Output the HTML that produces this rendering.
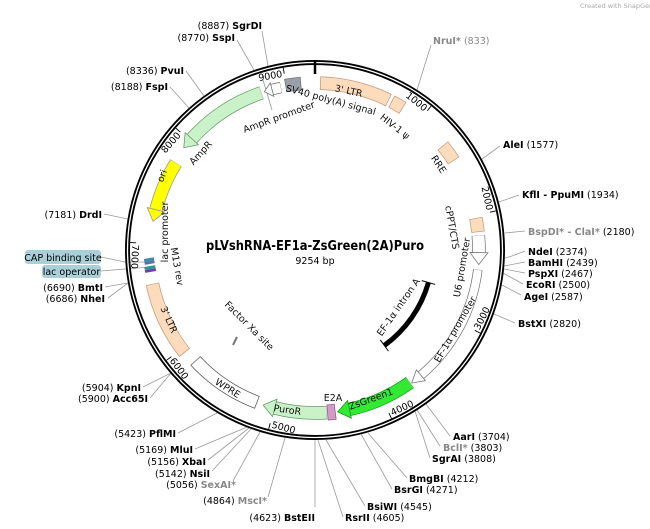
<!DOCTYPE html>
<html><head><meta charset="utf-8"><style>
html,body{margin:0;padding:0;background:#fff;}
svg{display:block;font-family:"DejaVu Sans","Liberation Sans",sans-serif;}
.e{font-size:9.5px;fill:#000;}
.b{font-weight:bold;}
.g{fill:#888;}
.ln{stroke:#9a9a9a;stroke-width:0.8;fill:none;}
.f{font-size:9.5px;fill:#111;}
</style></head><body>
<svg width="650" height="529" viewBox="0 0 650 529" xmlns="http://www.w3.org/2000/svg">
<rect width="650" height="529" fill="#fff"/>
<text x="580" y="8" font-size="6.5" fill="#aaa">Created with SnapGene®</text>

<!-- connector lines -->
<g class="ln">
<line x1="417" y1="90" x2="431" y2="45"/>
<line x1="482" y1="159" x2="500" y2="146"/>
<line x1="499" y1="202" x2="519" y2="195"/>
<line x1="505" y1="233" x2="525" y2="231"/>
<polyline points="505,258 512,256 525,251"/>
<polyline points="504,266 525,262"/>
<polyline points="504,269 525,273"/>
<polyline points="503,273 523,284"/>
<polyline points="502,285 521,295"/>
<line x1="494" y1="314" x2="515" y2="323"/>
<line x1="426" y1="404" x2="450" y2="436"/>
<line x1="417" y1="410" x2="440" y2="446"/>
<line x1="415" y1="411" x2="430" y2="458"/>
<line x1="368" y1="433" x2="407" y2="478"/>
<line x1="361" y1="434" x2="392" y2="489"/>
<line x1="326" y1="440" x2="365" y2="506"/>
<line x1="318" y1="440" x2="343" y2="517"/>
<line x1="315" y1="440" x2="315" y2="507"/>
<line x1="285" y1="438" x2="268" y2="497"/>
<line x1="260" y1="432" x2="233" y2="481"/>
<line x1="251" y1="429" x2="212" y2="471"/>
<line x1="249" y1="428" x2="208" y2="460"/>
<line x1="247" y1="427" x2="195" y2="449"/>
<line x1="217" y1="413" x2="178" y2="433"/>
<line x1="171" y1="373" x2="143" y2="387"/>
<line x1="171" y1="373" x2="150" y2="398"/>
<line x1="128" y1="283" x2="105" y2="287"/>
<line x1="128" y1="283" x2="108" y2="298"/>
<polyline points="101,271 150,267"/>
<polyline points="101,257 125,262 148,262"/>
<line x1="128" y1="219" x2="104" y2="214"/>
<line x1="189" y1="108" x2="170" y2="87"/>
<line x1="204" y1="96" x2="186" y2="71"/>
<line x1="254" y1="70" x2="237" y2="40"/>
<line x1="268" y1="66" x2="262" y2="31"/>
<line x1="263" y1="80" x2="272" y2="110"/>
</g>

<!-- backbone -->
<circle cx="315" cy="250" r="187.5" fill="none" stroke="#000" stroke-width="5"/>
<circle cx="315" cy="250" r="187.5" fill="none" stroke="#fff" stroke-width="1.3"/>
<line x1="315" y1="61" x2="315" y2="74" stroke="#000" stroke-width="2.5"/>

<!-- ticks -->
<g stroke="#000" stroke-width="0.9">
<line x1="315" y1="65" x2="315" y2="71" transform="rotate(38.9 315 250)"/>
<line x1="315" y1="65" x2="315" y2="71" transform="rotate(77.8 315 250)"/>
<line x1="315" y1="65" x2="315" y2="71" transform="rotate(116.7 315 250)"/>
<line x1="315" y1="65" x2="315" y2="71" transform="rotate(155.6 315 250)"/>
<line x1="315" y1="65" x2="315" y2="71" transform="rotate(194.5 315 250)"/>
<line x1="315" y1="65" x2="315" y2="71" transform="rotate(233.4 315 250)"/>
<line x1="315" y1="65" x2="315" y2="71" transform="rotate(272.3 315 250)"/>
<line x1="315" y1="65" x2="315" y2="71" transform="rotate(311.2 315 250)"/>
<line x1="315" y1="65" x2="315" y2="71" transform="rotate(350.1 315 250)"/>
</g>
<g font-size="9.5" fill="#000">
<text x="313" y="74" text-anchor="end" transform="rotate(38.9 315 250)">1000</text>
<text x="313" y="74" text-anchor="end" transform="rotate(77.8 315 250)">2000</text>
<text x="313" y="74" text-anchor="end" transform="rotate(311.2 315 250)">8000</text>
<text x="313" y="74" text-anchor="end" transform="rotate(350.1 315 250)">9000</text>
<text x="317" y="433" transform="rotate(-63.3 315 250)">3000</text>
<text x="317" y="433" transform="rotate(-24.4 315 250)">4000</text>
<text x="317" y="433" transform="rotate(14.5 315 250)">5000</text>
<text x="317" y="433" transform="rotate(53.4 315 250)">6000</text>
<text x="317" y="433" transform="rotate(92.3 315 250)">7000</text>
</g>

<!-- box features -->
<g fill="none">
<!-- 3' LTR top -->
<circle cx="315" cy="250" r="167" pathLength="360" stroke="#c49a78" stroke-width="13.5" stroke-dasharray="24.5 400" transform="rotate(-88.25 315 250)"/>
<circle cx="315" cy="250" r="167" pathLength="360" stroke="#fddcbd" stroke-width="12" stroke-dasharray="24 400" transform="rotate(-88 315 250)"/>
<!-- HIV psi -->
<circle cx="315" cy="250" r="167" pathLength="360" stroke="#c49a78" stroke-width="13.5" stroke-dasharray="4.5 400" transform="rotate(-62.75 315 250)"/>
<circle cx="315" cy="250" r="167" pathLength="360" stroke="#fddcbd" stroke-width="12" stroke-dasharray="4 400" transform="rotate(-62.5 315 250)"/>
<!-- RRE -->
<circle cx="315" cy="250" r="165" pathLength="360" stroke="#c49a78" stroke-width="13.5" stroke-dasharray="6.5 400" transform="rotate(-39.25 315 250)"/>
<circle cx="315" cy="250" r="165" pathLength="360" stroke="#fddcbd" stroke-width="12" stroke-dasharray="6 400" transform="rotate(-39 315 250)"/>
<!-- cPPT -->
<circle cx="315" cy="250" r="164" pathLength="360" stroke="#c49a78" stroke-width="13.5" stroke-dasharray="5 400" transform="rotate(-11.25 315 250)"/>
<circle cx="315" cy="250" r="164" pathLength="360" stroke="#fddcbd" stroke-width="12" stroke-dasharray="4.5 400" transform="rotate(-11 315 250)"/>
<!-- SV40 -->
<circle cx="315" cy="250" r="167" pathLength="360" stroke="#6d727c" stroke-width="13.5" stroke-dasharray="5.5 400" transform="rotate(259.75 315 250)"/>
<circle cx="315" cy="250" r="167" pathLength="360" stroke="#9a9fa9" stroke-width="12" stroke-dasharray="5 400" transform="rotate(260 315 250)"/>
<!-- WPRE -->
<circle cx="315" cy="250" r="163" pathLength="360" stroke="#555" stroke-width="13.5" stroke-dasharray="26.5 400" transform="rotate(110.75 315 250)"/>
<circle cx="315" cy="250" r="163" pathLength="360" stroke="#fff" stroke-width="12" stroke-dasharray="26 400" transform="rotate(111 315 250)"/>
<!-- 3' LTR left -->
<circle cx="315" cy="250" r="166" pathLength="360" stroke="#c49a78" stroke-width="13.5" stroke-dasharray="26.5 400" transform="rotate(141.75 315 250)"/>
<circle cx="315" cy="250" r="166" pathLength="360" stroke="#fddcbd" stroke-width="12" stroke-dasharray="26 400" transform="rotate(142 315 250)"/>

<!-- arrows bodies -->
<!-- AmpR -->
<circle cx="315" cy="250" r="166" pathLength="360" stroke="#6a9a6a" stroke-width="13.5" stroke-dasharray="29.2 400" transform="rotate(222 315 250)"/>
<circle cx="315" cy="250" r="166" pathLength="360" stroke="#c9f2c9" stroke-width="12" stroke-dasharray="29 400" transform="rotate(222.1 315 250)"/>
<!-- ori -->
<circle cx="315" cy="250" r="164" pathLength="360" stroke="#999" stroke-width="13.5" stroke-dasharray="18 400" transform="rotate(194.1 315 250)"/>
<circle cx="315" cy="250" r="164" pathLength="360" stroke="#ffff00" stroke-width="12" stroke-dasharray="17.8 400" transform="rotate(194.2 315 250)"/>
<!-- AmpR promoter -->
<circle cx="315" cy="250" r="166" pathLength="360" stroke="#777" stroke-width="11.5" stroke-dasharray="3.2 400" transform="rotate(255 315 250)"/>
<circle cx="315" cy="250" r="166" pathLength="360" stroke="#fff" stroke-width="10" stroke-dasharray="3 400" transform="rotate(255.1 315 250)"/>
<!-- U6 -->
<circle cx="315" cy="250" r="164" pathLength="360" stroke="#777" stroke-width="13.5" stroke-dasharray="6.1 400" transform="rotate(-5.1 315 250)"/>
<circle cx="315" cy="250" r="164" pathLength="360" stroke="#fff" stroke-width="12" stroke-dasharray="6 400" transform="rotate(-5 315 250)"/>
<!-- EF-1a promoter -->
<circle cx="315" cy="250" r="164" pathLength="360" stroke="#777" stroke-width="9.5" stroke-dasharray="43.1 400" transform="rotate(6.9 315 250)"/>
<circle cx="315" cy="250" r="164" pathLength="360" stroke="#fff" stroke-width="8" stroke-dasharray="43 400" transform="rotate(7 315 250)"/>
<!-- ZsGreen1 -->
<circle cx="315" cy="250" r="163" pathLength="360" stroke="#1a9a1a" stroke-width="13.5" stroke-dasharray="23.4 400" transform="rotate(54.4 315 250)"/>
<circle cx="315" cy="250" r="163" pathLength="360" stroke="#33ea33" stroke-width="12" stroke-dasharray="23.3 400" transform="rotate(54.5 315 250)"/>
<!-- PuroR -->
<circle cx="315" cy="250" r="163" pathLength="360" stroke="#6a9a6a" stroke-width="13.5" stroke-dasharray="18.4 400" transform="rotate(85.9 315 250)"/>
<circle cx="315" cy="250" r="163" pathLength="360" stroke="#c9f2c9" stroke-width="12" stroke-dasharray="18.3 400" transform="rotate(86 315 250)"/>
<!-- E2A -->
<circle cx="315" cy="250" r="163" pathLength="360" stroke="#8a5a80" stroke-width="16" stroke-dasharray="3 400" transform="rotate(82.75 315 250)"/>
<circle cx="315" cy="250" r="163" pathLength="360" stroke="#d49ac8" stroke-width="14.5" stroke-dasharray="2.5 400" transform="rotate(83 315 250)"/>
<!-- intron A -->
<circle cx="315" cy="250" r="118" pathLength="360" stroke="#000" stroke-width="5" stroke-dasharray="38 400" transform="rotate(16 315 250)"/>
</g>
<g stroke="#000" stroke-width="1">
<line x1="315" y1="125" x2="315" y2="139" transform="rotate(106 315 250)"/>
<line x1="315" y1="125" x2="315" y2="139" transform="rotate(144 315 250)"/>
</g>
<!-- arrowheads -->
<polygon points="315,75 303,84 315,93" fill="#c9f2c9" stroke="#6a9a6a" stroke-width="0.8" transform="rotate(312.1 315 250)"/>
<polygon points="315,77 303,86 315,95" fill="#ffff00" stroke="#999" stroke-width="0.8" transform="rotate(284.2 315 250)"/>
<polygon points="315,77 307,84 315,91" fill="#fff" stroke="#777" stroke-width="0.8" transform="rotate(345 315 250)"/>
<polygon points="315,77 327,86 315,95" fill="#fff" stroke="#777" stroke-width="0.8" transform="rotate(90.9 315 250)"/>
<polygon points="315,79 327,86 315,93" fill="#fff" stroke="#777" stroke-width="0.8" transform="rotate(139.8 315 250)"/>
<polygon points="315,78 327,87 315,96" fill="#33ea33" stroke="#1a9a1a" stroke-width="0.8" transform="rotate(167.8 315 250)"/>
<polygon points="315,78 327,87 315,96" fill="#c9f2c9" stroke="#6a9a6a" stroke-width="0.8" transform="rotate(194.3 315 250)"/>

<!-- lac / CAP / M13 small features -->
<rect x="145" y="258" width="10" height="3" fill="#3a8fa0" transform="rotate(-10 150 265)"/>
<rect x="145" y="261" width="10" height="3" fill="#5a6fb0" transform="rotate(-10 150 265)"/>
<rect x="144" y="266" width="11" height="3" fill="#2a9a8a" transform="rotate(-10 150 265)"/>
<rect x="144" y="269" width="11" height="3" fill="#7040b0" transform="rotate(-10 150 265)"/>

<!-- Factor Xa -->
<line x1="237" y1="337" x2="233" y2="345" stroke="#777" stroke-width="2"/>

<!-- feature labels -->
<g class="f">
<text transform="translate(348,94) rotate(12)" text-anchor="middle">3' LTR</text>
<text transform="translate(393,129) rotate(38)" text-anchor="middle">HIV-1 ψ</text>
<text transform="translate(436,166) rotate(57)" text-anchor="middle">RRE</text>
<text transform="translate(449,228) rotate(80)" text-anchor="middle">cPPT/CTS</text>
<text transform="translate(465,268) rotate(-80)" text-anchor="middle">U6 promoter</text>
<text transform="translate(458,331) rotate(-60)" text-anchor="middle">EF-1α promoter</text>
<text transform="translate(401,309) rotate(-55)" text-anchor="middle">EF-1α intron A</text>
<text transform="translate(372,402) rotate(-20)" text-anchor="middle">ZsGreen1</text>
<text x="333" y="401" text-anchor="middle">E2A</text>
<text transform="translate(287,413) rotate(8)" text-anchor="middle">PuroR</text>
<text transform="translate(226,391) rotate(32)" text-anchor="middle">WPRE</text>
<text transform="translate(247,328) rotate(45)" text-anchor="middle">Factor Xa site</text>
<text transform="translate(166,321) rotate(66)" text-anchor="middle">3' LTR</text>
<text transform="translate(168,232) rotate(-90)" text-anchor="middle">lac promoter</text>
<text transform="translate(174,267) rotate(80)" text-anchor="middle">M13 rev</text>
<text transform="translate(165,177) rotate(-70)" text-anchor="middle">ori</text>
<text transform="translate(203,155) rotate(-48)" text-anchor="middle">AmpR</text>
<text transform="translate(280,120) rotate(-20)" text-anchor="middle">AmpR promoter</text>
<text transform="translate(330,103) rotate(15)" text-anchor="middle">SV40 poly(A) signal</text>
</g>

<!-- title -->
<text x="315" y="250" text-anchor="middle" font-size="13" font-weight="bold" textLength="218" lengthAdjust="spacingAndGlyphs">pLVshRNA-EF1a-ZsGreen(2A)Puro</text>
<text x="315" y="264" text-anchor="middle" font-size="9.5">9254 bp</text>

<!-- enzyme labels right -->
<g class="e">
<text x="433" y="44"><tspan class="b g">NruI*</tspan> <tspan class="g">(833)</tspan></text>
<text x="503" y="148"><tspan class="b">AleI</tspan>  (1577)</text>
<text x="522" y="198"><tspan class="b">KflI - PpuMI</tspan>  (1934)</text>
<text x="528" y="235"><tspan class="b g">BspDI* - ClaI*</tspan>  (2180)</text>
<text x="528" y="255"><tspan class="b">NdeI</tspan>  (2374)</text>
<text x="528" y="266"><tspan class="b">BamHI</tspan>  (2439)</text>
<text x="528" y="277"><tspan class="b">PspXI</tspan>  (2467)</text>
<text x="526" y="288"><tspan class="b">EcoRI</tspan>  (2500)</text>
<text x="524" y="300"><tspan class="b">AgeI</tspan>  (2587)</text>
<text x="518" y="327"><tspan class="b">BstXI</tspan>  (2820)</text>
<text x="453" y="440"><tspan class="b">AarI</tspan>  (3704)</text>
<text x="443" y="451"><tspan class="b g">BclI*</tspan>  (3803)</text>
<text x="432" y="462"><tspan class="b">SgrAI</tspan>  (3808)</text>
<text x="409" y="482"><tspan class="b">BmgBI</tspan>  (4212)</text>
<text x="394" y="493"><tspan class="b">BsrGI</tspan>  (4271)</text>
<text x="367" y="510"><tspan class="b">BsiWI</tspan>  (4545)</text>
<text x="345" y="521"><tspan class="b">RsrII</tspan>  (4605)</text>
</g>
<!-- enzyme labels left -->
<g class="e" text-anchor="end">
<text x="315" y="521">(4623)  <tspan class="b">BstEII</tspan></text>
<text x="267" y="504">(4864)  <tspan class="b g">MscI*</tspan></text>
<text x="236" y="488">(5056)  <tspan class="b g">SexAI*</tspan></text>
<text x="210" y="477">(5142)  <tspan class="b">NsiI</tspan></text>
<text x="206" y="465">(5156)  <tspan class="b">XbaI</tspan></text>
<text x="193" y="453">(5169)  <tspan class="b">MluI</tspan></text>
<text x="176" y="437">(5423)  <tspan class="b">PflMI</tspan></text>
<text x="148" y="402">(5900)  <tspan class="b">Acc65I</tspan></text>
<text x="141" y="391">(5904)  <tspan class="b">KpnI</tspan></text>
<text x="105" y="302">(6686)  <tspan class="b">NheI</tspan></text>
<text x="103" y="291">(6690)  <tspan class="b">BmtI</tspan></text>
<text x="102" y="218">(7181)  <tspan class="b">DrdI</tspan></text>
<text x="168" y="90">(8188)  <tspan class="b">FspI</tspan></text>
<text x="184" y="74">(8336)  <tspan class="b">PvuI</tspan></text>
<text x="235" y="41">(8770)  <tspan class="b">SspI</tspan></text>
<text x="262" y="29">(8887)  <tspan class="b">SgrDI</tspan></text>
</g>

<!-- CAP / lac operator boxes -->
<rect x="25" y="250" width="76" height="14" rx="3" fill="#a9cfd9"/>
<text x="63" y="261" text-anchor="middle" font-size="9.5">CAP binding site</text>
<rect x="42" y="265" width="59" height="13" rx="3" fill="#a9cfd9"/>
<text x="71.5" y="275" text-anchor="middle" font-size="9.5">lac operator</text>
</svg>
</body></html>
